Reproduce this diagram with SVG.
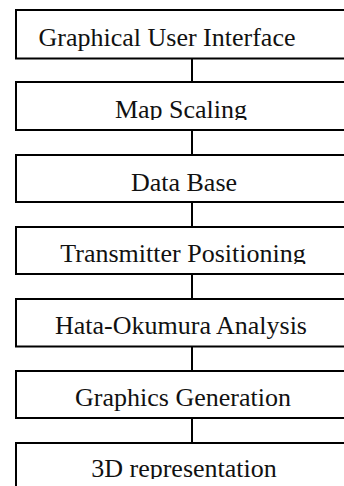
<svg xmlns="http://www.w3.org/2000/svg" width="344" height="486" viewBox="0 0 344 486">
  <style>
    .box { fill: #ffffff; stroke: #000000; stroke-width: 2; }
    .lbl { font-family: "Liberation Serif", "Times New Roman", serif; font-size: 26px; fill: #111111; text-anchor: middle; }
    .link { stroke: #000000; stroke-width: 2; fill: none; }
  </style>
  <defs>
    <!-- descenders of some labels are trimmed just below the baseline -->
    <clipPath id="cut-map"><rect x="0" y="82" width="344" height="38"/></clipPath>
    <clipPath id="cut-tx"><rect x="0" y="227" width="344" height="37"/></clipPath>
    <clipPath id="cut-3d"><rect x="0" y="443" width="344" height="36"/></clipPath>
  </defs>
  <rect width="344" height="486" fill="#ffffff"/>

  <g id="connectors">
    <line class="link" x1="192" y1="59" x2="192" y2="82"/>
    <line class="link" x1="192" y1="131" x2="192" y2="155"/>
    <line class="link" x1="192" y1="203" x2="192" y2="227"/>
    <line class="link" x1="192" y1="275" x2="192" y2="299"/>
    <line class="link" x1="192" y1="347" x2="192" y2="371"/>
    <line class="link" x1="192" y1="419" x2="192" y2="443"/>
  </g>

  <g id="gui">
    <rect class="box" x="16" y="10" width="360" height="48.5"/>
    <text class="lbl" x="167" y="46">Graphical User Interface</text>
  </g>
  <g id="map-scaling">
    <rect class="box" x="16" y="82" width="360" height="48"/>
    <text class="lbl" x="181" y="118" clip-path="url(#cut-map)">Map Scaling</text>
  </g>
  <g id="data-base">
    <rect class="box" x="16" y="155" width="360" height="47"/>
    <text class="lbl" x="184" y="191">Data Base</text>
  </g>
  <g id="transmitter-positioning">
    <rect class="box" x="16" y="227" width="360" height="47"/>
    <text class="lbl" x="183" y="262" clip-path="url(#cut-tx)">Transmitter Positioning</text>
  </g>
  <g id="hata-okumura">
    <rect class="box" x="16" y="299" width="360" height="47.5"/>
    <text class="lbl" x="181" y="334">Hata-Okumura Analysis</text>
  </g>
  <g id="graphics-generation">
    <rect class="box" x="16" y="371" width="360" height="47"/>
    <text class="lbl" x="183" y="406">Graphics Generation</text>
  </g>
  <g id="representation-3d">
    <rect class="box" x="16" y="443" width="360" height="60"/>
    <text class="lbl" x="184" y="477" clip-path="url(#cut-3d)">3D representation</text>
  </g>
</svg>
